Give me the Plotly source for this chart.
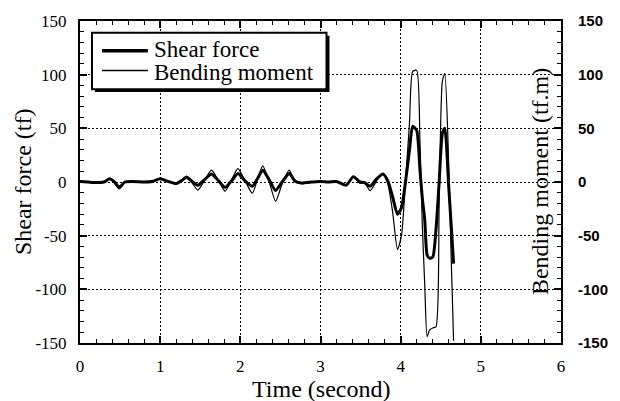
import plotly.graph_objects as go

# Time history of the member forces (seconds)
time_s = [0.00, 0.10, 0.20, 0.30, 0.37, 0.43, 0.49, 0.56, 0.65, 0.80,
          0.90, 1.00, 1.10, 1.20, 1.27, 1.33, 1.40, 1.47, 1.55, 1.64,
          1.73, 1.81, 1.89, 1.97, 2.06, 2.15, 2.22, 2.28, 2.36, 2.44,
          2.52, 2.61, 2.68, 2.76, 2.90, 3.00, 3.10, 3.20, 3.32, 3.41,
          3.49, 3.55, 3.62, 3.70, 3.78, 3.84, 3.90, 3.96, 4.01, 4.06,
          4.11, 4.15, 4.20, 4.24, 4.27, 4.30, 4.33, 4.36, 4.40, 4.44,
          4.48, 4.52, 4.55, 4.60, 4.63, 4.66]

# Shear force (tf)
shear_force = [0.5, 0, -0.5, 0, 3, 0, -5, 0, 0.5, 0,
               0.5, 3, 0.5, -1.5, 1.5, 4.5, 0.5, -3, 2, 7.5,
               1, -5, 1, 8, 1, -4, 4, 11, 2, -8,
               0, 8, 1, -1, 0, 0.5, 0, 0.5, -3, 5,
               0, -0.5, -4, 3, 7.5, 1, -14, -30, -24, 0,
               30, 52, 48, 12, -15, -35, -68, -71, -70, -45,
               0, 45, 50, -5, -40, -76]

# Bending moment (tf.m)
bending_moment = [0.5, 0, -0.5, 0, 3.5, -1, -6.5, -0.5, 0.5, 0,
                  0.5, 3, 0.5, -2, 2, 5.5, -1, -7.5, 1, 11,
                  1, -8.5, 2, 12.5, 1, -10.5, 4, 15, 0, -18,
                  -2, 11, 1, -1.5, 0, 0.5, 0, 0.5, -3, 5,
                  -1, -1, -8, 1, 7.5, -2, -28, -63, -50, 0,
                  55, 103, 104, 40, -40, -95, -144, -138, -136, -135,
                  -20, 94, 101, 15, -70, -148]

x_tickvals = [0, 1, 2, 3, 4, 5, 6]
x_ticktext = ["0", "1", "2", "3", "4", "5", "6"]
y_tickvals = [-150, -100, -50, 0, 50, 100, 150]
y_ticktext = ["-150", "-100", "-50", "0", "50", "100", "150"]

W, H = 620, 401
ML, MR, MT, MB = 80, 58, 17, 58
PW, PH = W - ML - MR, H - MT - MB

SERIF = "Liberation Serif"
SANS = "Liberation Sans"


def px(x):
    return (x - ML) / PW


def py(y):
    return (H - MB - y) / PH


fig = go.Figure()
fig.add_trace(go.Scatter(
    x=time_s, y=shear_force, mode="lines", name="Shear force",
    line=dict(color="black", width=3, shape="spline", smoothing=0.6),
    showlegend=False))
fig.add_trace(go.Scatter(
    x=time_s, y=bending_moment, mode="lines", name="Bending moment",
    line=dict(color="black", width=1.2, shape="spline", smoothing=0.6),
    yaxis="y2", showlegend=False))

grid = dict(showgrid=True, gridcolor="black", gridwidth=1.3, griddash="2px,2px")
minor_y = dict(dtick=10, ticks="inside", ticklen=4, tickwidth=1, tickcolor="black",
               showgrid=False)

fig.update_layout(
    width=W, height=H,
    margin=dict(l=ML, r=MR, t=MT, b=MB),
    paper_bgcolor="white", plot_bgcolor="white",
    xaxis=dict(range=[0, 6], tickvals=x_tickvals, ticktext=x_ticktext,
               ticks="inside", ticklen=7, tickwidth=1.5, tickcolor="black",
               showline=True, linewidth=2, linecolor="black", mirror="ticks",
               zeroline=False, ticklabelstandoff=7,
               tickfont=dict(family=SERIF, size=17, color="black"),
               minor=dict(dtick=0.2, ticks="inside", ticklen=4, tickwidth=1,
                          tickcolor="black", showgrid=False),
               **grid),
    yaxis=dict(range=[-150, 150], tickvals=y_tickvals, ticktext=y_ticktext,
               ticks="inside", ticklen=7, tickwidth=1.5, tickcolor="black",
               showline=True, linewidth=2, linecolor="black",
               zeroline=False, ticklabelstandoff=8,
               tickfont=dict(family=SERIF, size=17, color="black"),
               minor=minor_y, **grid),
    yaxis2=dict(range=[-150, 150], overlaying="y", side="right",
                tickvals=y_tickvals, ticktext=y_ticktext,
                ticks="inside", ticklen=7, tickwidth=1.5, tickcolor="black",
                showline=True, linewidth=2, linecolor="black",
                zeroline=False, showgrid=False, ticklabelstandoff=12,
                tickfont=dict(family=SANS, size=15, color="black", weight="bold"),
                minor=minor_y),
)

# Axis titles
title_font = dict(family=SERIF, size=24, color="black")
fig.add_annotation(text="Shear force (tf)", xref="paper", yref="paper",
                   x=px(23), y=0.5, xanchor="center", yanchor="middle",
                   textangle=-90, showarrow=False, font=title_font)
fig.add_annotation(text="Bending moment (tf.m)", xref="paper", yref="paper",
                   x=px(541), y=0.5, xanchor="center", yanchor="middle",
                   textangle=-90, showarrow=False, font=title_font)
fig.add_annotation(text="Time (second)", xref="paper", yref="paper",
                   x=px(322), y=py(390), xanchor="center", yanchor="middle",
                   showarrow=False, font=title_font)

# Legend box with drop shadow
fig.add_shape(type="rect", xref="paper", yref="paper", layer="above",
              x0=px(95), x1=px(330), y0=py(89), y1=py(32),
              fillcolor="black", line=dict(width=0))
fig.add_shape(type="rect", xref="paper", yref="paper", layer="above",
              x0=px(92), x1=px(327), y0=py(86), y1=py(29),
              fillcolor="white", line=dict(color="black", width=2))
legend_font = dict(family=SERIF, size=23, color="black")
legend_rows = [("Shear force", 3.5, 47, 45.5), ("Bending moment", 1.5, 67, 69.5)]
for label, lw, line_y, text_y in legend_rows:
    fig.add_shape(type="line", xref="paper", yref="paper", layer="above",
                  x0=px(102), x1=px(148), y0=py(line_y), y1=py(line_y),
                  line=dict(color="black", width=lw))
    fig.add_annotation(text=label, xref="paper", yref="paper",
                       x=px(152), y=py(text_y), xanchor="left", yanchor="middle",
                       showarrow=False, font=legend_font)

fig.write_html("out.html")
